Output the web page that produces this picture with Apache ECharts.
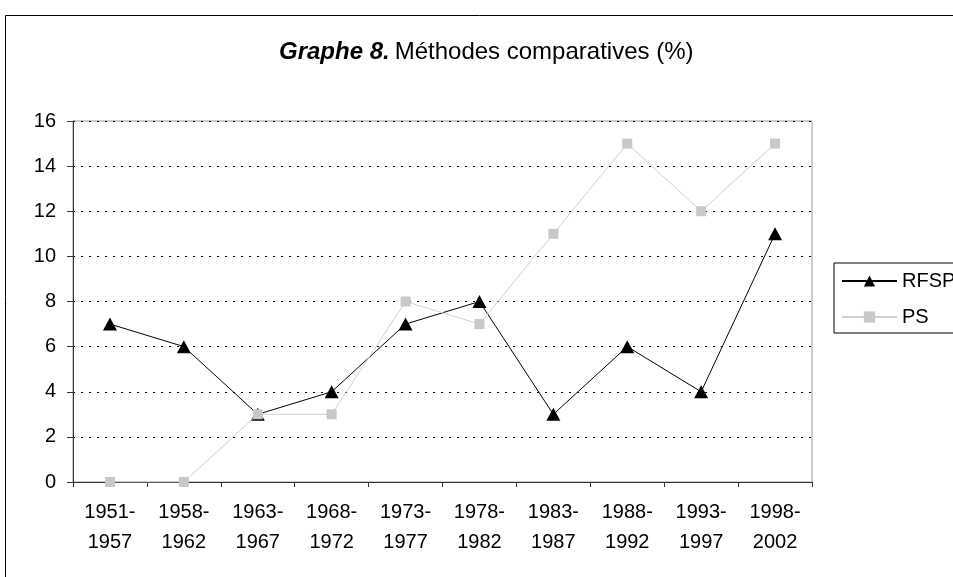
<!DOCTYPE html>
<html><head><meta charset="utf-8">
<script src="https://cdn.jsdelivr.net/npm/echarts@6/dist/echarts.min.js"></script>
<style>html,body{margin:0;padding:0;background:#fff}#c{width:953px;height:577px}</style>
</head><body><div id="c"></div>
<script>
const categories = ['1951-\n1957','1958-\n1962','1963-\n1967','1968-\n1972','1973-\n1977','1978-\n1982','1983-\n1987','1988-\n1992','1993-\n1997','1998-\n2002'];
const rfsp = [7,6,3,4,7,8,3,6,4,11];
const ps = [0,0,3,3,8,7,11,15,12,15];
const yTicks = {min:0, max:16, interval:2};
const font = 'Liberation Sans';
const chart = echarts.init(document.getElementById('c'), null, {renderer:'canvas'});
chart.setOption({
  backgroundColor:'#fff',
  animation:false,
  graphic:[{type:'rect', shape:{x:5.5,y:15.5,width:1000,height:1000}, style:{fill:'none',stroke:'#000',lineWidth:1}, silent:true, z:-10}],
  title:{
    text:'{b|Graphe 8.} {n|Méthodes comparatives (%)}',
    left:274, top:35,
    textStyle:{rich:{
      b:{fontFamily:font,fontSize:24,fontWeight:'bold',fontStyle:'italic',color:'#000'},
      n:{fontFamily:font,fontSize:24,fontWeight:'normal',color:'#000'}
    }}
  },
  legend:{
    orient:'vertical', left:834, top:263,
    borderColor:'#000', borderWidth:1, borderRadius:0,
    padding:[8,40,6,7], itemGap:16, itemWidth:55, itemHeight:14,
    textStyle:{fontFamily:font,fontSize:20,color:'#000'},
    data:['RFSP','PS']
  },
  grid:{left:73,right:141,top:121,bottom:95,show:true,borderColor:'#999',borderWidth:1,backgroundColor:'transparent'},
  xAxis:{
    type:'category', data:categories, boundaryGap:true,
    axisLine:{lineStyle:{color:'#333',width:1}},
    axisTick:{show:true,alignWithLabel:false,length:5,lineStyle:{color:'#333'}},
    axisLabel:{fontFamily:font,fontSize:20,color:'#000',lineHeight:30,margin:15,interval:0}
  },
  yAxis:{
    type:'value', min:yTicks.min, max:yTicks.max, interval:yTicks.interval,
    axisLine:{show:true,lineStyle:{color:'#333',width:1}},
    axisTick:{show:true,length:6,lineStyle:{color:'#333'}},
    axisLabel:{fontFamily:font,fontSize:20,color:'#000',margin:17},
    splitLine:{show:true,lineStyle:{color:'#000',type:[2,6],width:1}}
  },
  series:[
    {name:'RFSP', type:'line', data:rfsp, symbol:'triangle', symbolSize:[14,13],
     lineStyle:{color:'#000',width:1}, itemStyle:{color:'#000'}, z:2},
    {name:'PS', type:'line', data:ps, symbol:'rect', symbolSize:10,
     lineStyle:{color:'#d0d0d0',width:1}, itemStyle:{color:'#c8c8c8'}, z:3}
  ]
});
</script></body></html>
